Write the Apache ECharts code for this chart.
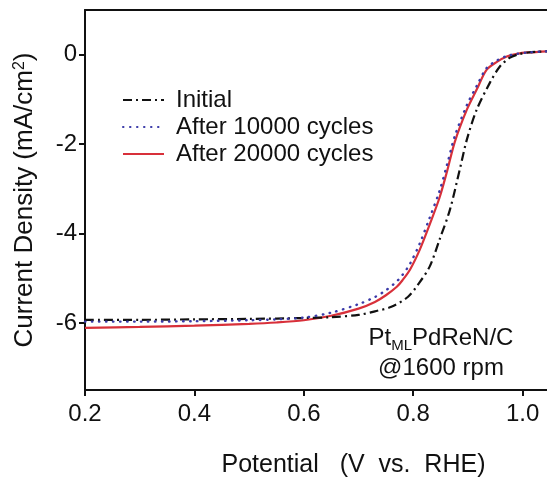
<!DOCTYPE html>
<html>
<head>
<meta charset="utf-8">
<script src="https://cdn.jsdelivr.net/npm/echarts@6/dist/echarts.min.js"></script>
<style>html,body{margin:0;padding:0;background:#fff}#c{width:547px;height:478px}</style>
</head>
<body>
<div id="c"></div>
<script>
const seriesNames = ['Initial', 'After 10000 cycles', 'After 20000 cycles'];
const xTicks = [0.2, 0.4, 0.6, 0.8, 1.0];
const yTicks = [0, -2, -4, -6];

const initialV = [0.2,0.3,0.4,0.5,0.6,0.65,0.7,0.73,0.76,0.79,0.81,0.83,0.848,0.867,0.885,0.898,0.916,0.94,0.958,0.976,0.99,1.01,1.05];
const initialJ = [-5.93,-5.93,-5.92,-5.91,-5.89,-5.87,-5.82,-5.74,-5.64,-5.42,-5.12,-4.74,-4.14,-3.47,-2.57,-1.9,-1.23,-0.63,-0.27,-0.07,0.0,0.05,0.08];

const c10kV = [0.2,0.3,0.4,0.5,0.55,0.6,0.65,0.7,0.73,0.75,0.77,0.78,0.794,0.812,0.83,0.848,0.862,0.876,0.898,0.916,0.934,0.953,0.971,0.99,1.01,1.05];
const c10kJ = [-5.97,-5.97,-5.96,-5.94,-5.92,-5.88,-5.77,-5.58,-5.42,-5.27,-5.07,-4.93,-4.68,-4.22,-3.65,-3.05,-2.45,-1.82,-1.13,-0.7,-0.3,-0.13,-0.03,0.02,0.05,0.08];

const c20kV = [0.2,0.3,0.4,0.5,0.55,0.6,0.65,0.7,0.73,0.75,0.77,0.78,0.794,0.812,0.83,0.848,0.862,0.876,0.898,0.916,0.934,0.953,0.971,0.99,1.01,1.05];
const c20kJ = [-6.11,-6.09,-6.06,-6.02,-5.99,-5.94,-5.84,-5.68,-5.53,-5.38,-5.19,-5.05,-4.81,-4.36,-3.8,-3.2,-2.6,-1.95,-1.23,-0.78,-0.34,-0.16,-0.04,0.02,0.05,0.08];

const pairs = (xs, ys) => xs.map((x, i) => [x, ys[i]]);
const FONT = 'Liberation Sans, Arial, sans-serif';

const chart = echarts.init(document.getElementById('c'), null, {renderer: 'canvas'});
chart.setOption({
  animation: false,
  backgroundColor: '#fff',
  grid: {left: 85, top: 10, right: -3, bottom: 88, containLabel: false, outerBoundsMode: 'none'},
  legend: {
    orient: 'vertical', left: 117, top: 83,
    itemWidth: 41, itemHeight: 14, itemGap: 3,
    data: seriesNames,
    itemStyle: {opacity: 0, borderWidth: 0},
    textStyle: {fontFamily: FONT, fontSize: 24, color: '#111', lineHeight: 24, padding: [0, 0, 0, 7]}
  },
  xAxis: [{
    type: 'value', min: 0.2, max: 1.05, interval: 0.2,
    position: 'bottom',
    name: 'Potential   (V  vs.  RHE)', nameLocation: 'middle', nameGap: 63,
    nameTextStyle: {fontFamily: FONT, fontSize: 25, color: '#111', padding: [0, 0, 0, 72]},
    axisLine: {show: true, onZero: false, lineStyle: {color: '#111', width: 2}},
    axisTick: {show: true, length: 6, inside: false, customValues: xTicks, lineStyle: {color: '#111', width: 2}},
    axisLabel: {fontFamily: FONT, fontSize: 24, color: '#111', margin: 12,
      customValues: xTicks, formatter: v => v.toFixed(1)},
    splitLine: {show: false}
  }, {
    type: 'value', min: 0.2, max: 1.05, position: 'top',
    axisLine: {show: true, onZero: false, lineStyle: {color: '#111', width: 2}},
    axisTick: {show: false}, axisLabel: {show: false}, splitLine: {show: false}
  }],
  yAxis: {
    type: 'value', min: -7.5, max: 1,
    name: 'Current Density (mA/cm{sup|2})', nameLocation: 'middle', nameGap: 47, nameRotate: 90,
    nameTextStyle: {fontFamily: FONT, fontSize: 26, color: '#111',
      rich: {sup: {fontFamily: FONT, fontSize: 16, color: '#111', verticalAlign: 'top', padding: [0, 0, 10, 0]}}},
    axisLine: {show: true, onZero: false, lineStyle: {color: '#111', width: 2}},
    axisTick: {show: true, length: 6, customValues: yTicks, lineStyle: {color: '#111', width: 2}},
    axisLabel: {fontFamily: FONT, fontSize: 24, color: '#111', margin: 8, customValues: yTicks},
    splitLine: {show: false}
  },
  series: [
    {name: seriesNames[0], type: 'line', symbol: 'none', smooth: 0.3, data: pairs(initialV, initialJ), z: 3,
      lineStyle: {color: '#111', width: 2.2, type: [9, 4, 2, 4]}, itemStyle: {color: '#111'}},
    {name: seriesNames[1], type: 'line', symbol: 'none', smooth: 0.3, data: pairs(c10kV, c10kJ), z: 4,
      lineStyle: {color: '#3a3aa8', width: 2.4, type: [0.5, 6.5], cap: 'round'}, itemStyle: {color: '#3a3aa8'}},
    {name: seriesNames[2], type: 'line', symbol: 'none', smooth: 0.3, data: pairs(c20kV, c20kJ), z: 2,
      lineStyle: {color: '#d8303a', width: 2.2}, itemStyle: {color: '#d8303a'}}
  ],
  graphic: [{
    type: 'text', x: 441, y: 323,
    style: {
      text: 'Pt{sub|ML}PdReN/C\n{b|@1600 rpm}', fill: '#111', font: '24px ' + FONT, align: 'center',
      lineHeight: 30,
      rich: {
        sub: {fontFamily: FONT, fontSize: 15, verticalAlign: 'bottom', padding: [10, 0, 0, 0], fill: '#111'},
        b: {fontFamily: FONT, fontSize: 24, fill: '#111'}
      }
    }
  }]
});
</script>
</body>
</html>
